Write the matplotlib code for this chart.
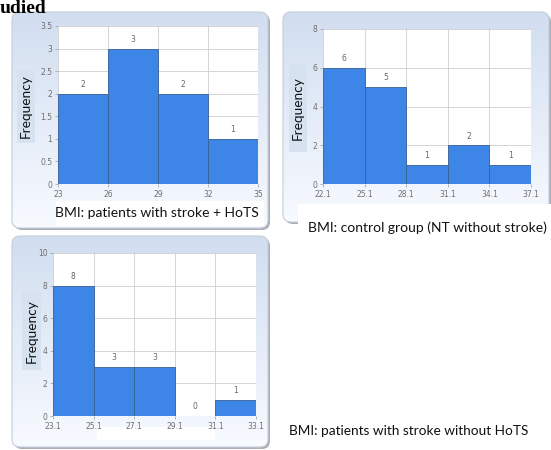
import numpy as np
import matplotlib
matplotlib.use("Agg")
import matplotlib.pyplot as plt
from matplotlib.patches import FancyBboxPatch, Rectangle

# ---------------- data ----------------
p1_ticks = ["23", "26", "29", "32", "35"]
p1_counts = [2, 3, 2, 1]
p1_yticks = [0, 0.5, 1, 1.5, 2, 2.5, 3, 3.5]
p1_caption = "BMI: patients with stroke + HoTS"

p2_ticks = ["22.1", "25.1", "28.1", "31.1", "34.1", "37.1"]
p2_counts = [6, 5, 1, 2, 1]
p2_yticks = [0, 2, 4, 6, 8]
p2_caption = "BMI: control group (NT without stroke)"

p3_ticks = ["23.1", "25.1", "27.1", "29.1", "31.1", "33.1"]
p3_counts = [8, 3, 3, 0, 1]
p3_yticks = [0, 2, 4, 6, 8, 10]
p3_caption = "BMI: patients with stroke without HoTS"

W, H = 551, 450
fig = plt.figure(figsize=(W / 100, H / 100), dpi=100)
fig.patch.set_facecolor("white")

# background axes in pixel coords
bg = fig.add_axes([0, 0, 1, 1])
bg.set_xlim(0, W)
bg.set_ylim(H, 0)
bg.axis("off")

BAR = "#3d86e8"
PANEL_TOP = np.array([0.82, 0.87, 0.94])
PANEL_BOT = np.array([0.97, 0.98, 1.0])
CAP_FONT = ["Lato", "DejaVu Sans"]


def panel(x0, y0, x1, y1):
    shadow = FancyBboxPatch((x0 + 2, y0 + 2), x1 - x0, y1 - y0,
                            boxstyle="round,pad=0,rounding_size=8",
                            fc="#a9aeb8", ec="none", zorder=0)
    bg.add_patch(shadow)
    box = FancyBboxPatch((x0, y0), x1 - x0, y1 - y0,
                         boxstyle="round,pad=0,rounding_size=8",
                         fc="none", ec="#c5cedb", lw=0.8, zorder=1)
    bg.add_patch(box)
    grad = np.linspace(0, 1, 100)[:, None, None]
    img = PANEL_TOP * (1 - grad) + PANEL_BOT * grad
    im = bg.imshow(img, extent=(x0, x1, y1, y0), aspect="auto", zorder=0.5,
                   interpolation="bilinear")
    im.set_clip_path(box)


def freq_label(x0, y0, x1, y1):
    bg.add_patch(Rectangle((x0, y0), x1 - x0, y1 - y0, fc="#d6e2f0", ec="none", zorder=2))
    bg.text((x0 + x1) / 2, (y0 + y1) / 2, "Frequency", rotation=90, ha="center",
            va="center", fontsize=9.8, family=CAP_FONT, color="#111111", zorder=3)


def hist_axes(l, r, t, b, ticks, counts, yticks):
    ax = fig.add_axes([l / W, 1 - b / H, (r - l) / W, (b - t) / H])
    ax.set_facecolor("white")
    x = np.arange(len(counts))
    ax.bar(x, counts, width=1, align="edge", color=BAR, edgecolor="#3a5f94",
           linewidth=0.6, zorder=2)
    for xi, c in zip(x, counts):
        ax.text(xi + 0.5, c + (yticks[-1] * 0.03), str(c), ha="center", va="bottom",
                fontsize=5.5, color="#666666", zorder=3)
    ax.set_xlim(0, len(counts))
    ax.set_ylim(0, yticks[-1])
    ax.set_xticks(np.arange(len(ticks)))
    ax.set_xticklabels(ticks)
    ax.set_yticks(yticks)
    ax.set_yticklabels([("%g" % v) for v in yticks])
    ax.grid(True, color="#d4d4d4", lw=0.7, zorder=0)
    ax.set_axisbelow(True)
    for s in ax.spines.values():
        s.set_visible(False)
    ax.tick_params(axis="both", labelsize=5.5, labelcolor="#6f6f6f", color="#999999",
                   length=2, width=0.5, pad=2)
    return ax


# title fragment
bg.text(0, 13, "udied", fontsize=14, fontweight="bold", family="Liberation Serif",
        ha="left", va="baseline", color="black", zorder=5)

# panel 1
panel(12, 12, 268, 228)
hist_axes(58, 258, 26, 184, p1_ticks, p1_counts, p1_yticks)
freq_label(17, 70, 35, 143)
bg.add_patch(Rectangle((56, 201), 208, 25, fc="white", ec="none", zorder=2))
bg.text(157, 213, p1_caption, ha="center", va="center", fontsize=10,
        family=CAP_FONT, color="#111111", zorder=3)

# panel 2
panel(283, 12, 549, 222)
hist_axes(323, 531, 29, 184, p2_ticks, p2_counts, p2_yticks)
freq_label(289, 65, 307, 152)
bg.add_patch(Rectangle((298, 204), 253, 38, fc="white", ec="none", zorder=2))
bg.text(427, 228, p2_caption, ha="center", va="center", fontsize=10,
        family=CAP_FONT, color="#111111", zorder=3)

# panel 3
panel(12, 236, 268, 447)
hist_axes(53, 256, 253, 416, p3_ticks, p3_counts, p3_yticks)
freq_label(22, 292, 41, 370)
bg.add_patch(Rectangle((97, 427), 118, 13, fc="white", ec="none", zorder=2))
bg.text(409, 431, p3_caption, ha="center", va="center", fontsize=9.8,
        family=CAP_FONT, color="#111111", zorder=3)

fig.savefig("out.png", dpi=100)
